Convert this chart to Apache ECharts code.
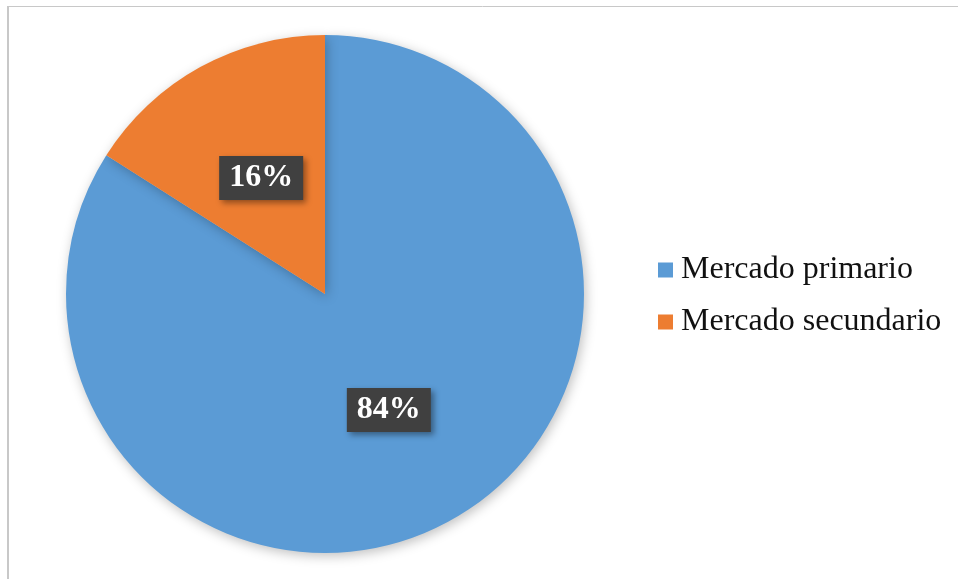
<!DOCTYPE html>
<html>
<head>
<meta charset="utf-8">
<script src="https://cdn.jsdelivr.net/npm/echarts@6/dist/echarts.min.js"></script>
<style>
html,body{margin:0;padding:0;background:#fff;}
#c{width:958px;height:579px;}
</style>
</head>
<body>
<div id="c"></div>
<script>
const categories = ['Mercado primario', 'Mercado secundario'];
const values = [84, 16];
const colors = ['#5B9BD5', '#ED7D31'];

const chart = echarts.init(document.getElementById('c'));
chart.setOption({
  animation: false,
  color: colors,
  graphic: [
    {type: 'line', shape: {x1: 8, y1: 6, x2: 8, y2: 579}, style: {stroke: '#c8c8c8', lineWidth: 2}},
    {type: 'line', shape: {x1: 7, y1: 6.5, x2: 958, y2: 6.5}, style: {stroke: '#c8c8c8', lineWidth: 1}}
  ],
  legend: {
    orient: 'vertical',
    left: 658,
    top: 254,
    padding: 0,
    itemWidth: 15,
    itemHeight: 15,
    itemGap: 20,
    icon: 'rect',
    data: categories,
    textStyle: {
      fontFamily: 'Liberation Serif',
      fontSize: 32,
      color: '#111',
      lineHeight: 30,
      padding: [0, 0, 0, 3]
    }
  },
  series: [{
    type: 'pie',
    center: [325, 294],
    radius: [0, 259],
    startAngle: 90,
    clockwise: true,
    data: categories.map((n, i) => ({name: n, value: values[i]})),
    itemStyle: {
      shadowBlur: 12,
      shadowColor: 'rgba(0,0,0,0.25)',
      shadowOffsetX: 2,
      shadowOffsetY: 3
    },
    label: {
      position: 'inside',
      formatter: '{c}%',
      fontFamily: 'Liberation Serif',
      fontWeight: 'bold',
      fontSize: 32,
      color: '#fff',
      backgroundColor: '#404040',
      padding: [6, 10, 6, 10],
      shadowBlur: 6,
      shadowColor: 'rgba(0,0,0,0.4)',
      shadowOffsetX: 3,
      shadowOffsetY: 3
    },
    labelLine: {show: false},
    emphasis: {disabled: true}
  }]
});
</script>
</body>
</html>
